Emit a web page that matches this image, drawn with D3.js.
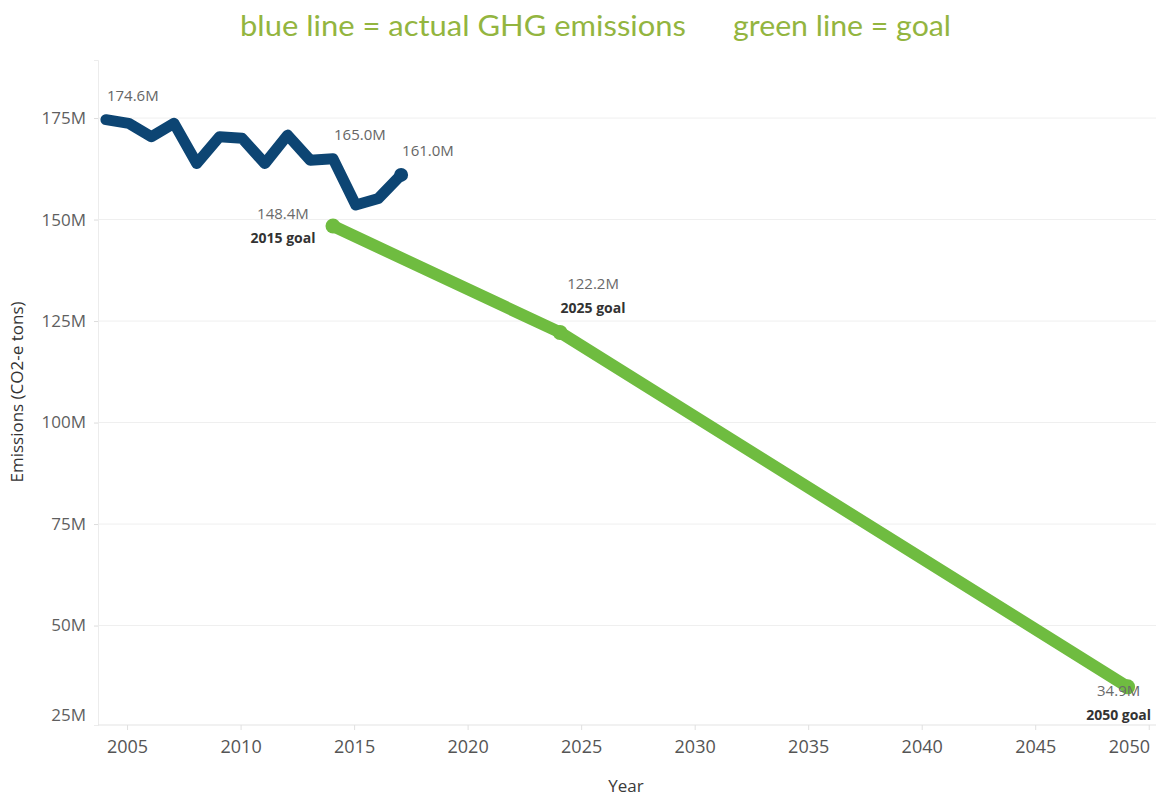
<!DOCTYPE html>
<html>
<head>
<meta charset="utf-8">
<script src="https://cdn.jsdelivr.net/npm/d3@7"></script>
<style>
  html, body { margin: 0; padding: 0; background: #fff; }
  svg { display: block; }
</style>
</head>
<body>
<svg id="chart" width="1156" height="799"></svg>
<script>
// Actual greenhouse-gas emissions (millions of tons CO2-e)
const actualYears  = [2005, 2006, 2007, 2008, 2009, 2010, 2011, 2012, 2013, 2014, 2015, 2016, 2017, 2018];
const actualValues = [174.6, 173.7, 170.4, 173.7, 163.8, 170.4, 170.0, 163.8, 170.8, 164.6, 165.0, 153.6, 155.2, 161.0];

// Reduction goals
const goalYears  = [2015, 2025, 2050];
const goalValues = [148.4, 122.2, 34.9];
const goalNames  = ["2015 goal", "2025 goal", "2050 goal"];

// Points that carry a value label on the actual line
const labeledActualYears = [2005, 2015, 2018];

// Axis ticks
const xTickValues = [2005, 2010, 2015, 2020, 2025, 2030, 2035, 2040, 2045, 2050];
const yTickValues = [25, 50, 75, 100, 125, 150, 175];

const titleLeft  = "blue line = actual GHG emissions";
const titleRight = "green line = goal";

const BLUE  = "#0d4573";
const GREEN = "#6fbc40";
const FONT  = "'Open Sans', 'Noto Sans', sans-serif";

const svg = d3.select("#chart");
const W = 1156, H = 799;
const pane = { left: 98, right: 1156, top: 60, bottom: 725 };

// Scales
const x = d3.scaleLinear()
  .domain([2004.65, 2051.25])
  .range([pane.left, pane.right]);
const y = d3.scaleLinear()
  .domain([25.5, 189.3])
  .range([pane.bottom, pane.top]);

// Year labels sit one period to the right of the year start
const labelShift = 0.93;
const xAxisScale = x.copy().domain(x.domain().map(d => d - labelShift));

const fmt = v => v.toFixed(1) + "M";

// Title
svg.append("text")
  .attr("x", 240).attr("y", 36)
  .attr("font-family", "Lato, 'Open Sans', sans-serif")
  .attr("font-size", 29)
  .attr("fill", "#93b53f")
  .attr("textLength", 446)
  .attr("lengthAdjust", "spacingAndGlyphs")
  .text(titleLeft);
svg.append("text")
  .attr("x", 733).attr("y", 36)
  .attr("font-family", "Lato, 'Open Sans', sans-serif")
  .attr("font-size", 29)
  .attr("fill", "#93b53f")
  .attr("textLength", 218)
  .attr("lengthAdjust", "spacingAndGlyphs")
  .text(titleRight);

// Horizontal gridlines
svg.append("g")
  .selectAll("line")
  .data(yTickValues.filter(v => y(v) <= pane.bottom))
  .join("line")
  .attr("x1", pane.left).attr("x2", pane.right)
  .attr("y1", d => y(d)).attr("y2", d => y(d))
  .attr("stroke", "#efefef").attr("stroke-width", 1);

// Left axis
const yAxis = svg.append("g")
  .attr("transform", `translate(${pane.left},0)`)
  .call(d3.axisLeft(y).tickValues(yTickValues).tickFormat(d => d + "M").tickSize(4).tickPadding(8));
yAxis.select(".domain").attr("stroke", "#ececec");
yAxis.selectAll(".tick line").attr("stroke", "#dcdcdc");
yAxis.selectAll(".tick text")
  .attr("font-family", FONT).attr("font-size", 17).attr("fill", "#5f5f5f");
// keep tick labels inside the pane
yAxis.selectAll(".tick").each(function (d) {
  const ty = y(d);
  const limit = pane.bottom - 10;
  if (ty > limit) d3.select(this).select("text").attr("y", limit - ty);
});
yAxis.selectAll(".tick").filter(d => y(d) > pane.bottom).select("line").remove();

// Bottom axis
const xAxis = svg.append("g")
  .attr("transform", `translate(0,${pane.bottom})`)
  .call(d3.axisBottom(xAxisScale).tickValues(xTickValues).tickFormat(d3.format("d")).tickSize(5).tickPadding(10));
xAxis.select(".domain").attr("stroke", "#e3e3e3").attr("d", `M${pane.left},0H${pane.right}`);
xAxis.selectAll(".tick line").attr("stroke", "#e0e0e0");
xAxis.selectAll(".tick text")
  .attr("font-family", FONT).attr("font-size", 18).attr("fill", "#555");
// keep the last year label inside the canvas
xAxis.selectAll(".tick").each(function () {
  const t = d3.select(this).select("text");
  const m = this.getAttribute("transform").match(/translate\(([-\d.]+)/);
  const tx = +m[1];
  const tb = t.node().getBBox();
  const rightEdge = tx + tb.x + tb.width;
  if (rightEdge > W - 6) t.attr("dx", (W - 6) - rightEdge);
});

// Axis titles
svg.append("text")
  .attr("x", 626).attr("y", 792)
  .attr("text-anchor", "middle")
  .attr("font-family", FONT).attr("font-size", 17).attr("fill", "#3a3a3a")
  .text("Year");
svg.append("text")
  .attr("transform", "translate(23,392) rotate(-90)")
  .attr("text-anchor", "middle")
  .attr("font-family", FONT).attr("font-size", 17).attr("fill", "#333")
  .text("Emissions (CO2-e tons)");

// Lines
svg.append("clipPath").attr("id", "paneClip")
  .append("rect")
  .attr("x", pane.left).attr("y", pane.top)
  .attr("width", pane.right - pane.left).attr("height", pane.bottom - pane.top);

const plot = svg.append("g").attr("clip-path", "url(#paneClip)");

const line = d3.line().x(d => x(d[0])).y(d => y(d[1]));

const actual = actualYears.map((yr, i) => [yr, actualValues[i]]);
const goals  = goalYears.map((yr, i) => [yr, goalValues[i]]);

plot.append("path")
  .datum(goals)
  .attr("d", line)
  .attr("fill", "none")
  .attr("stroke", GREEN)
  .attr("stroke-width", 12)
  .attr("stroke-linejoin", "round")
  .attr("stroke-linecap", "round");

plot.selectAll("circle.goal")
  .data(goals)
  .join("circle")
  .attr("class", "goal")
  .attr("cx", d => x(d[0])).attr("cy", d => y(d[1]))
  .attr("r", 7.5)
  .attr("fill", GREEN);

plot.append("path")
  .datum(actual)
  .attr("d", line)
  .attr("fill", "none")
  .attr("stroke", BLUE)
  .attr("stroke-width", 11)
  .attr("stroke-linejoin", "round")
  .attr("stroke-linecap", "round");

plot.selectAll("circle.actual")
  .data(actual.filter(d => d[0] === 2018))
  .join("circle")
  .attr("class", "actual")
  .attr("cx", d => x(d[0])).attr("cy", d => y(d[1]))
  .attr("r", 7)
  .attr("fill", BLUE);

// Value labels on the actual line (placed up and to the right of the point)
const actualLabels = actual.filter(d => labeledActualYears.includes(d[0]));
svg.selectAll("text.actual-label")
  .data(actualLabels)
  .join("text")
  .attr("class", "actual-label")
  .attr("x", d => Math.max(x(d[0]) + 1, pane.left + 8))
  .attr("y", d => y(d[1]) - 19)
  .attr("font-family", FONT).attr("font-size", 15).attr("fill", "#666")
  .text(d => fmt(d[1]));

// Goal labels: value and goal name
const goalLabelOffsets = [
  { dx: -50, dy: -7 },
  { dx: 33,  dy: -43 },
  { dx: -9,  dy: 9 }
];
const goalLabel = svg.selectAll("g.goal-label")
  .data(goals)
  .join("g")
  .attr("class", "goal-label")
  .attr("transform", (d, i) => `translate(${x(d[0]) + goalLabelOffsets[i].dx},${y(d[1]) + goalLabelOffsets[i].dy})`);
goalLabel.append("text")
  .attr("text-anchor", "middle")
  .attr("font-family", FONT).attr("font-size", 15).attr("fill", "#6a6a6a")
  .text(d => fmt(d[1]));
goalLabel.append("text")
  .attr("y", 24)
  .attr("text-anchor", "middle")
  .attr("font-family", FONT).attr("font-size", 14).attr("font-weight", 700).attr("fill", "#333")
  .text((d, i) => goalNames[i]);
</script>
</body>
</html>
